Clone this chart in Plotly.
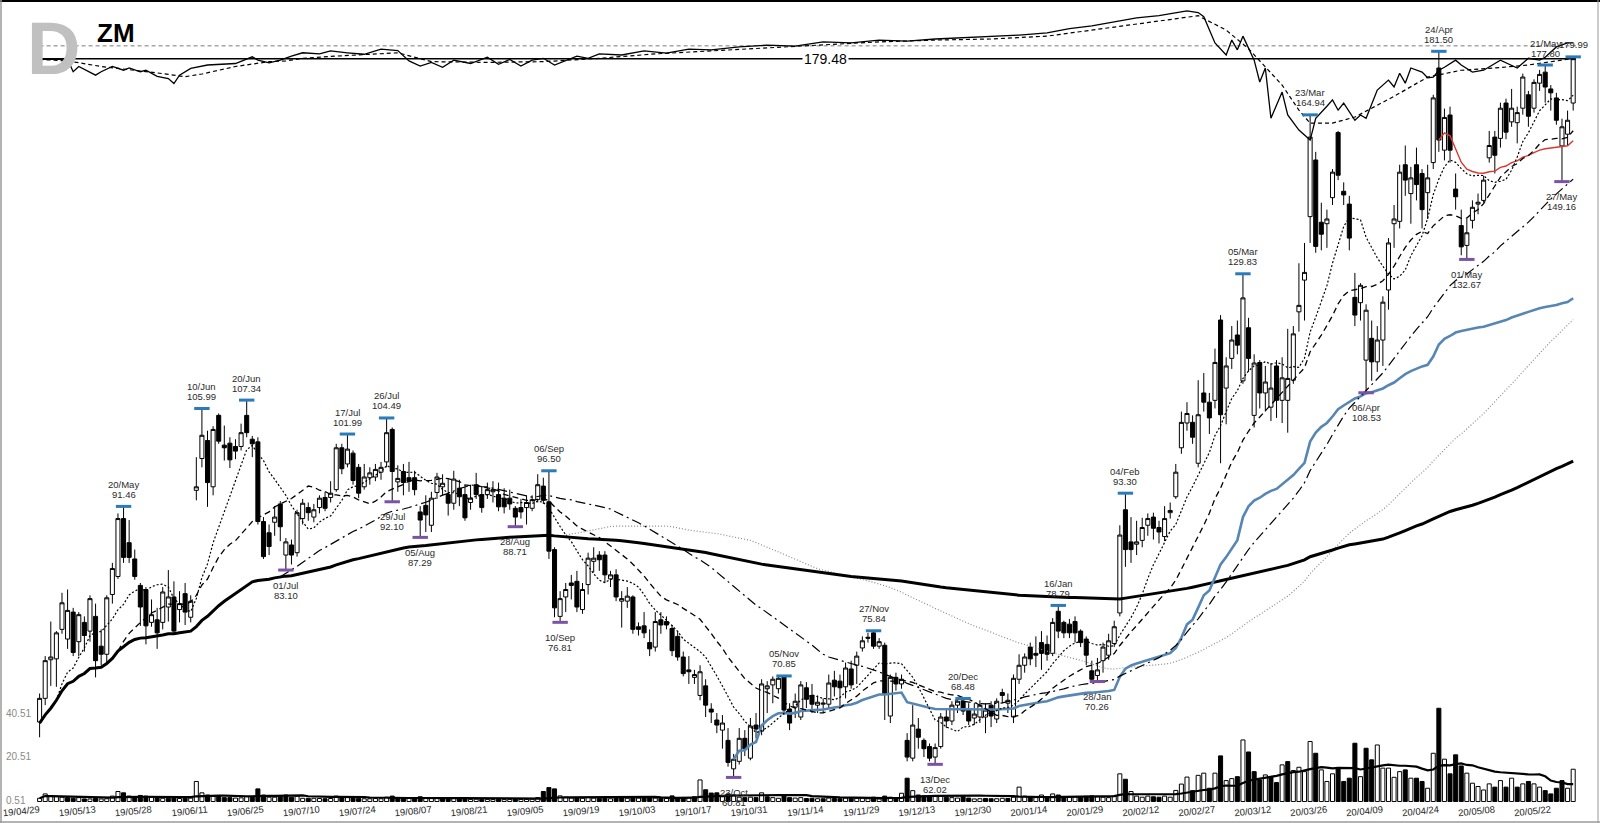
import numpy as np
import pandas as pd
import plotly.graph_objects as go

# ---------------- data ----------------
holidays = ['2019-05-27', '2019-07-04', '2019-09-02', '2019-11-28', '2019-12-25',
            '2020-01-01', '2020-01-20', '2020-02-17', '2020-04-10', '2020-05-25']
dates = [d for d in pd.bdate_range('2019-04-29', '2020-05-29')
         if d.strftime('%Y-%m-%d') not in holidays]

# closes of the IPO days before the window (used only for moving-average warm-up)
pre_closes = [62.0, 65.7, 69.0, 66.0, 65.0, 65.8]

opens = [
    66.1, 68.5, 72.6, 72.7, 76.0, 74.9, 78.0, 74.6, 76.8, 75.8,
    77.5, 74.1, 73.2, 80.1, 82.3, 89.8, 86.6, 84.5, 81.2, 80.7,
    76.8, 77.1, 76.8, 78.6, 79.8, 78.3, 80.2, 77.4, 93.7, 98.3,
    101.0, 94.2, 104.9, 100.3, 100.6, 100.1, 100.1, 104.9, 101.2, 100.8,
    89.4, 87.9, 89.3, 91.8, 85.0, 86.3, 85.3, 89.8, 91.3, 90.0,
    91.3, 92.7, 92.7, 93.8, 99.9, 97.5, 99.1, 97.0, 94.2, 95.5,
    95.6, 96.3, 97.8, 102.7, 94.9, 96.4, 95.5, 95.5, 90.7, 91.6,
    88.9, 93.4, 94.2, 93.1, 91.9, 94.0, 93.1, 92.0, 94.5, 93.1,
    93.1, 93.5, 93.1, 92.6, 92.6, 91.2, 91.3, 91.3, 91.2, 92.4,
    94.3, 92.1, 85.7, 77.5, 79.8, 81.5, 81.7, 78.3, 81.3, 84.2,
    85.0, 85.0, 82.0, 82.5, 79.3, 79.3, 79.8, 76.3, 76.4, 74.5,
    74.0, 77.1, 76.9, 76.1, 75.2, 72.9, 71.5, 70.7, 68.8, 69.8,
    67.4, 66.3, 65.3, 64.3, 61.6, 62.3, 64.5, 62.6, 65.8, 65.2,
    69.5, 69.9, 69.5, 70.8, 67.4, 67.6, 66.6, 69.6, 68.8, 67.8,
    67.9, 67.9, 70.4, 70.3, 69.7, 71.6, 72.0, 73.9, 75.1, 75.6,
    74.1, 74.2, 66.7, 70.7, 70.0, 64.3, 62.6, 65.4, 64.3, 63.7,
    62.7, 63.7, 66.6, 66.2, 67.8, 68.2, 67.3, 66.5, 66.6, 66.6,
    67.8, 66.4, 69.1, 68.0, 66.6, 70.5, 72.0, 74.0, 73.3, 74.5,
    74.3, 73.3, 78.1, 76.8, 76.6, 76.9, 75.8, 74.9, 71.4, 70.9,
    72.5, 73.1, 74.4, 77.9, 91.0, 86.7, 86.4, 86.9, 88.9, 90.0,
    88.6, 87.4, 90.6, 92.8, 99.9, 103.7, 103.8, 97.6, 108.5, 107.0,
    107.3, 121.1, 109.3, 114.3, 118.4, 110.5, 119.7, 104.9, 113.6, 108.5,
    106.2, 113.0, 107.3, 107.3, 110.6, 122.6, 128.6, 141.5, 154.1, 140.3,
    140.0, 145.6, 160.6, 147.0, 144.2, 125.3, 124.3, 114.0, 117.8, 113.7,
    117.5, 126.7, 140.0, 140.5, 153.0, 146.5, 153.0, 151.0, 146.7, 153.5,
    177.0, 156.4, 164.9, 147.5, 139.6, 135.5, 140.7, 144.2, 145.0, 154.6,
    159.5, 159.2, 167.9, 163.2, 163.0, 166.6, 170.0, 166.6, 173.0, 175.9,
    171.5, 169.2, 157.4, 160.2, 167.9]

highs = [
    69.0, 73.0, 76.9, 75.8, 80.3, 80.7, 78.5, 78.0, 77.5, 80.0,
    79.0, 76.0, 80.0, 84.0, 90.5, 91.46, 89.6, 85.7, 81.5, 81.0,
    79.5, 78.5, 81.0, 83.1, 81.7, 80.5, 81.5, 80.0, 98.5, 105.99,
    102.5, 103.2, 105.2, 103.3, 101.5, 101.2, 103.6, 107.34, 101.7, 101.5,
    90.0, 89.0, 91.5, 92.2, 87.2, 87.0, 91.0, 92.5, 92.0, 91.8,
    93.0, 93.5, 95.0, 100.5, 100.5, 101.99, 99.5, 97.5, 97.5, 97.0,
    97.5, 97.8, 104.49, 103.0, 97.3, 97.5, 97.8, 96.5, 91.5, 93.0,
    93.5, 96.2, 96.0, 95.3, 96.5, 95.2, 94.5, 94.5, 96.2, 94.2,
    94.8, 95.0, 94.8, 94.0, 93.8, 91.5, 92.5, 93.0, 93.0, 96.0,
    95.5, 96.50, 86.0, 80.5, 81.5, 82.5, 83.0, 81.5, 85.3, 86.0,
    85.5, 85.5, 83.0, 83.2, 80.5, 81.0, 80.0, 76.8, 78.0, 76.0,
    78.0, 78.0, 77.5, 76.5, 75.8, 73.5, 73.0, 71.5, 72.0, 70.5,
    68.0, 67.0, 66.8, 65.5, 63.0, 65.5, 65.3, 66.5, 67.0, 70.5,
    70.3, 70.8, 70.8, 70.85, 68.0, 69.0, 70.3, 70.2, 70.0, 68.8,
    68.5, 71.0, 71.4, 71.0, 72.3, 72.5, 73.5, 75.2, 75.6, 75.84,
    75.0, 74.5, 71.0, 71.2, 71.0, 65.0, 67.8, 66.5, 64.5, 64.0,
    64.0, 67.0, 67.5, 68.2, 68.3, 68.48, 68.0, 68.0, 68.3, 68.0,
    68.2, 68.5, 69.5, 69.0, 71.0, 73.2, 73.3, 74.5, 75.2, 75.8,
    75.3, 77.3, 78.79, 77.0, 77.2, 77.5, 76.0, 75.2, 72.5, 72.8,
    74.5, 75.5, 77.0, 88.9, 93.30, 90.0, 89.5, 89.9, 90.5, 90.6,
    89.5, 91.5, 92.0, 97.5, 105.5, 107.0, 104.9, 110.6, 111.8, 108.5,
    116.0, 122.0, 114.5, 120.0, 121.0, 129.83, 121.5, 115.0, 114.0, 113.0,
    113.5, 114.0, 114.5, 119.5, 120.0, 131.9, 136.0, 164.94, 156.0, 144.5,
    143.0, 152.0, 161.0, 149.0, 146.0, 130.0, 128.0, 124.0, 121.0, 120.0,
    125.5, 137.0, 144.0, 153.0, 157.5, 152.5, 157.0, 152.0, 153.0, 170.0,
    181.50, 166.5, 167.0, 151.0, 143.0, 141.0, 145.0, 146.5, 150.5, 161.0,
    161.0, 168.0, 169.0, 171.5, 167.0, 175.5, 171.0, 174.0, 176.5, 177.80,
    172.5, 170.5, 164.0, 166.0, 179.99]

lows = [
    64.6, 67.8, 69.8, 69.7, 75.5, 73.8, 73.0, 73.0, 73.5, 74.6,
    70.7, 72.0, 72.2, 79.0, 82.0, 84.0, 84.0, 81.9, 76.4, 74.3,
    76.3, 73.8, 76.0, 76.9, 75.5, 76.8, 76.5, 76.8, 92.3, 97.0,
    91.4, 93.0, 100.5, 98.0, 96.9, 98.2, 99.5, 101.5, 98.5, 89.0,
    84.5, 85.0, 87.5, 86.8, 83.10, 83.8, 84.8, 89.0, 89.5, 89.3,
    90.5, 90.8, 92.0, 93.5, 96.0, 97.0, 94.5, 92.6, 93.8, 94.5,
    95.0, 95.2, 97.0, 92.10, 93.5, 93.0, 93.5, 93.0, 87.29, 88.0,
    88.0, 92.5, 93.0, 90.2, 91.0, 91.5, 89.5, 91.0, 92.5, 90.6,
    92.5, 92.0, 90.8, 90.5, 91.0, 88.71, 89.8, 89.0, 90.8, 92.0,
    91.8, 84.5, 77.4, 76.81, 78.0, 79.5, 78.0, 77.8, 80.1, 82.8,
    83.0, 81.5, 81.0, 79.3, 76.2, 78.5, 75.5, 75.3, 75.0, 73.0,
    73.5, 75.5, 76.0, 73.0, 72.5, 70.8, 70.0, 70.0, 68.3, 66.6,
    66.0, 65.0, 63.5, 61.8, 60.81, 62.0, 62.8, 62.4, 64.5, 64.8,
    67.0, 68.0, 69.0, 66.8, 65.3, 66.5, 66.3, 67.5, 67.0, 67.0,
    67.0, 67.5, 68.7, 67.5, 68.5, 69.5, 70.0, 73.5, 74.5, 73.8,
    73.8, 66.3, 66.0, 69.3, 69.5, 62.3, 62.3, 63.5, 62.7, 62.3,
    62.02, 63.5, 65.5, 65.8, 67.0, 66.8, 65.8, 65.8, 66.0, 65.0,
    65.6, 66.0, 68.0, 67.0, 66.0, 70.0, 71.2, 72.0, 71.8, 71.5,
    72.5, 73.0, 75.0, 75.0, 75.0, 74.5, 74.0, 72.0, 70.3, 70.26,
    71.2, 72.6, 74.0, 77.5, 83.5, 84.0, 85.0, 86.0, 87.5, 87.0,
    86.5, 86.8, 89.8, 92.5, 99.0, 102.5, 100.5, 97.0, 105.5, 102.0,
    106.0, 97.6, 103.5, 112.5, 115.0, 110.0, 112.0, 103.0, 106.0, 105.5,
    104.0, 104.5, 103.7, 102.2, 110.0, 119.0, 121.0, 136.0, 134.0, 134.5,
    135.0, 144.0, 149.5, 144.0, 134.5, 120.0, 121.0, 108.53, 110.5, 112.0,
    113.0, 123.0, 135.0, 139.0, 146.0, 140.0, 145.0, 139.0, 141.0, 152.0,
    156.0, 154.0, 153.5, 143.0, 133.5, 132.67, 139.0, 142.0, 144.5, 153.5,
    151.0, 157.0, 159.0, 162.0, 158.0, 165.0, 162.0, 165.5, 171.0, 168.0,
    166.0, 162.5, 149.16, 157.5, 166.0]

closes = [
    68.5, 72.5, 72.9, 75.6, 79.1, 78.2, 73.4, 77.7, 75.3, 79.6,
    72.5, 73.2, 79.7, 83.3, 89.8, 84.7, 84.7, 82.3, 78.6, 76.4,
    77.7, 75.6, 80.4, 79.8, 75.8, 79.0, 78.0, 79.3, 94.2, 101.8,
    94.8, 102.7, 100.9, 99.9, 98.1, 99.4, 102.2, 102.2, 100.5, 89.4,
    84.8, 86.1, 90.0, 88.7, 86.7, 85.0, 90.6, 91.9, 90.6, 91.0,
    92.6, 91.2, 93.3, 99.9, 96.8, 99.7, 95.1, 93.3, 95.6, 96.2,
    96.7, 97.0, 102.2, 96.4, 95.4, 94.8, 95.0, 93.8, 89.6, 90.3,
    92.6, 95.6, 94.7, 91.9, 95.3, 92.8, 89.9, 92.6, 93.1, 91.3,
    93.8, 93.8, 91.4, 91.4, 91.8, 90.0, 90.7, 92.0, 92.4, 94.5,
    92.3, 85.5, 78.5, 79.6, 80.7, 81.2, 78.6, 80.7, 84.6, 84.6,
    84.4, 82.5, 82.5, 79.8, 79.6, 79.9, 76.0, 76.0, 75.6, 73.8,
    76.9, 76.5, 76.5, 73.6, 72.9, 71.1, 71.3, 71.0, 71.3, 67.8,
    67.1, 65.8, 66.0, 62.2, 62.5, 64.5, 63.5, 65.7, 65.4, 70.0,
    69.8, 70.5, 70.6, 67.3, 66.0, 68.2, 69.9, 68.4, 67.9, 68.1,
    68.0, 70.1, 69.7, 69.6, 71.7, 69.9, 73.0, 74.7, 75.0, 74.1,
    74.6, 69.0, 70.7, 70.0, 70.5, 62.7, 65.8, 64.6, 63.5, 62.6,
    63.6, 66.6, 66.2, 67.8, 68.2, 67.2, 66.2, 66.9, 67.8, 67.3,
    66.7, 68.2, 68.8, 68.3, 70.6, 72.0, 72.9, 72.7, 73.1, 73.3,
    73.2, 76.8, 75.8, 75.6, 75.6, 75.6, 74.5, 73.1, 70.5, 71.5,
    74.0, 74.7, 76.3, 87.6, 85.7, 85.7, 86.7, 88.6, 89.8, 88.5,
    88.0, 89.8, 90.9, 96.3, 103.8, 105.2, 101.5, 105.0, 107.0, 104.5,
    113.6, 105.0, 113.0, 117.5, 116.6, 125.2, 114.3, 113.5, 108.5, 110.3,
    109.3, 107.3, 111.0, 110.9, 118.6, 123.8, 130.1, 159.5, 135.3, 137.8,
    141.0, 151.3, 150.6, 146.2, 137.0, 122.0, 127.6, 122.9, 113.7, 117.5,
    124.4, 136.0, 141.0, 151.3, 149.5, 150.0, 148.5, 143.0, 150.0, 169.2,
    158.8, 164.3, 156.4, 145.8, 135.2, 138.1, 143.5, 144.6, 149.5, 157.5,
    155.2, 166.6, 160.7, 166.6, 165.5, 174.6, 164.6, 173.2, 175.3, 172.0,
    170.5, 163.6, 162.0, 163.6, 179.5]

volumes = [
    1.5, 3.5, 2.5, 2.3, 2.0, 1.8, 1.5, 1.8, 1.2, 1.2,
    1.5, 1.2, 1.3, 2.5, 4.6, 4.0, 2.5, 1.8, 2.8, 2.5,
    2.0, 2.0, 1.5, 1.5, 1.8, 1.4, 1.5, 1.6, 9.2, 4.0,
    3.0, 2.5, 2.4, 1.8, 1.8, 1.6, 1.7, 2.2, 2.0, 5.8,
    3.0, 2.0, 2.0, 2.2, 3.0, 2.0, 2.5, 1.5, 1.5, 1.5,
    1.4, 1.3, 1.4, 2.5, 2.0, 1.8, 1.7, 1.5, 1.3, 1.3,
    1.4, 1.3, 2.0, 2.5, 1.8, 1.6, 1.5, 1.4, 2.2, 1.6,
    1.8, 1.5, 1.2, 1.3, 1.4, 1.2, 1.4, 1.0, 1.1, 1.0,
    1.0, 0.9, 1.0, 0.9, 1.0, 1.2, 1.0, 1.0, 1.1, 1.8,
    4.6, 6.4, 5.8, 2.6, 2.0, 1.6, 1.8, 1.5, 2.0, 1.6,
    1.5, 1.6, 1.3, 1.8, 1.8, 1.5, 2.2, 1.6, 1.8, 1.8,
    1.6, 1.5, 1.4, 2.6, 1.8, 1.8, 1.8, 2.2, 9.9, 5.4,
    3.9, 4.0, 2.2, 3.5, 3.0, 2.0, 1.8, 2.0, 1.8, 4.0,
    2.2, 1.8, 1.5, 2.5, 1.8, 1.6, 1.8, 1.4, 1.5, 1.3,
    1.3, 1.6, 1.4, 1.3, 1.6, 1.4, 1.5, 1.8, 1.3, 2.0,
    1.2, 2.5, 2.0, 1.6, 3.8, 10.7, 5.0, 3.0, 2.6, 2.4,
    2.5, 2.6, 2.0, 1.8, 1.6, 2.2, 1.6, 1.2, 1.3, 1.4,
    1.3, 1.3, 1.5, 1.4, 2.0, 6.6, 2.5, 2.0, 1.8, 3.0,
    2.0, 3.5, 3.0, 2.0, 2.0, 2.2, 2.0, 2.4, 2.6, 2.2,
    2.0, 1.8, 2.5, 12.7, 10.2, 4.6, 2.5, 2.0, 2.5, 2.2,
    2.0, 2.5, 2.0, 5.1, 8.0, 11.2, 5.0, 12.0, 13.0, 6.1,
    13.0, 20.9, 9.6, 10.5, 11.4, 28.2, 22.7, 13.7, 9.9, 12.2,
    11.4, 8.7, 16.8, 18.3, 14.2, 15.7, 13.7, 27.5, 22.1, 14.5,
    9.2, 12.7, 15.3, 9.2, 10.7, 26.7, 11.4, 24.4, 19.1, 25.9,
    15.3, 15.3, 11.1, 13.7, 14.5, 10.7, 10.7, 9.2, 6.1, 22.1,
    42.7, 19.4, 12.7, 21.4, 16.3, 13.0, 8.4, 6.9, 5.3, 8.1,
    6.6, 9.6, 6.6, 10.7, 6.6, 8.1, 9.2, 8.1, 6.6, 5.0,
    3.5, 6.1, 9.6, 6.1, 14.8]

# relative-strength line (scaled onto the price axis) sampled at day indices
rs_idx = [0, 5, 6, 7, 10, 11, 13, 15, 16, 18, 19, 21, 23, 24, 25, 27, 30, 35, 38, 39,
          41, 43, 45, 47, 50, 52, 55, 58, 61, 64,
          66, 68, 70, 72, 74, 77, 80, 82, 84, 86, 88, 90, 92, 94, 96, 98, 100, 104, 108, 112,
          116, 120, 125, 130, 135, 140, 145, 150, 155, 160, 165, 170, 175, 180, 184, 188, 192, 196, 200, 203,
          205, 207, 208,
          210, 212, 213, 214, 215, 217, 218, 219,
          220, 222, 223, 225, 227, 228, 230, 231, 232, 233, 235, 236, 237, 239, 241, 242, 243, 244, 245, 247,
          248, 249, 250, 251, 253, 254, 256, 258, 261, 263, 264, 266, 268, 269, 271, 273, 274]
rs_val = [179.3, 179.3, 176.0, 177.4, 175.1, 176.0, 177.4, 176.4, 177.0, 176.0, 176.4, 174.8, 174.2, 172.9, 175.1, 176.9, 177.8, 178.2, 180.0, 179.1,
          178.4, 179.1, 180.2, 181.1, 180.8, 181.6, 181.1, 180.7, 182.1, 181.7,
          178.9, 177.5, 178.5, 177.2, 179.1, 178.2, 179.9, 178.0, 179.3, 177.5, 179.1, 179.6, 177.8, 179.1, 180.2, 179.6, 180.8, 180.5, 181.6, 181.0,
          182.1, 181.9, 182.7, 183.2, 182.9, 184.1, 183.8, 184.6, 184.3, 184.9, 185.2, 185.5, 186.0, 186.6, 187.8, 188.6, 189.8, 190.9, 191.5, 192.4,
          192.9, 192.4, 191.2,
          183.8, 180.5, 184.6, 181.9, 185.7, 179.1, 173.3, 177.0,
          164.1, 170.7, 164.9, 161.2, 158.8, 164.1, 167.1, 168.7, 166.1, 167.9, 163.6, 164.9, 164.1, 171.2, 173.8, 172.0, 175.6, 173.0, 177.0, 175.9,
          174.4, 174.6, 176.4, 177.2, 179.1, 177.8, 175.9, 176.4, 179.1, 177.8, 177.0, 179.6, 179.1, 179.9, 182.7, 183.8, 183.8]
rs_ma_idx = [0, 5, 11, 17, 21, 26, 29, 35, 41, 44, 47, 53, 58, 64,
             70, 80, 90, 100, 110, 120, 130, 140, 150, 160, 170, 180, 190, 200, 207,
             212, 216, 222, 225, 227, 231, 235, 242, 248, 254, 260, 266, 272, 274]
rs_ma_val = [179.3, 178.9, 177.4, 176.4, 175.7, 174.7, 175.4, 177.4, 178.7, 178.9, 179.6, 180.2, 180.7, 181.1,
             178.7, 178.5, 178.7, 179.6, 180.8, 181.6, 182.4, 183.2, 184.1, 184.6, 184.9, 185.7, 187.8, 189.8, 191.5,
             187.4, 182.2, 172.5, 166.1, 162.9, 162.9, 164.4, 169.6, 174.6, 176.4, 177.0, 177.8, 179.1, 179.6]

level_solid = 179.48
level_dashed = 183.0

high_label_idx = [15, 29, 37, 55, 62, 91, 133, 149, 165, 182, 194, 215, 227, 250, 269]
last_high_idx = 274
low_label_idx = [44, 63, 68, 85, 93, 124, 160, 189, 237, 255, 272]
avwap_low_anchor = 124
avwap_high_anchor = 250

tick_every = 10
vol_ma_window = 20

# ---------------- derived series ----------------
n = len(closes)
x = list(range(n))
all_close = pd.Series(pre_closes + closes)
npre = len(pre_closes)


def ma(win, minp=None):
    s = all_close.rolling(win, min_periods=minp if minp else win).mean()
    return s.iloc[npre:].tolist()


ma10 = ma(10)
ma21 = ma(21)
ma50 = ma(50)
ma100 = ma(100)
ma200 = ma(200, 1)

cl = np.array(closes); vo = np.array(volumes)


def avwap(a):
    pv = np.cumsum(cl[a:] * vo[a:])
    vv = np.cumsum(vo[a:])
    return list(range(a, n)), (pv / vv).tolist()


bx, bvw = avwap(avwap_low_anchor)
rx, rvw = avwap(avwap_high_anchor)

vol_ma = pd.Series(volumes).rolling(vol_ma_window, min_periods=1).mean().tolist()
prev = [pre_closes[-1]] + closes[:-1]
vol_colors = ['white' if closes[i] >= prev[i] else 'black' for i in range(n)]

# ---------------- figure ----------------
W, H = 1600, 823
ml, mr, mt, mb = 3, 3, 3, 21
fig = go.Figure()

fig.add_trace(go.Bar(x=x, y=volumes, marker=dict(color=vol_colors, line=dict(color='black', width=1)),
                     width=0.72, yaxis='y', hoverinfo='skip'))
fig.add_trace(go.Scatter(x=x, y=vol_ma, mode='lines', line=dict(color='black', width=2.2), yaxis='y'))

black = 'black'
fig.add_trace(go.Scatter(x=x, y=ma100, mode='lines', line=dict(color='#8a8a8a', width=1.2, dash='1px,2px'), yaxis='y2'))
fig.add_trace(go.Scatter(x=x, y=ma200, mode='lines', line=dict(color=black, width=3), yaxis='y2'))
fig.add_trace(go.Scatter(x=bx, y=bvw, mode='lines', line=dict(color='#5686b4', width=2.6), yaxis='y2'))
fig.add_trace(go.Scatter(x=rx, y=rvw, mode='lines', line=dict(color='#d8392f', width=1.4), yaxis='y2'))
fig.add_trace(go.Scatter(x=x, y=ma50, mode='lines', line=dict(color=black, width=1.2, dash='10px,4px,2px,4px'), yaxis='y2'))
fig.add_trace(go.Scatter(x=x, y=ma21, mode='lines', line=dict(color=black, width=1.3, dash='6px,4px'), yaxis='y2'))
fig.add_trace(go.Scatter(x=x, y=ma10, mode='lines', line=dict(color=black, width=1.2, dash='2px,2px'), yaxis='y2'))

fig.add_trace(go.Candlestick(
    x=x, open=opens, high=highs, low=lows, close=closes, yaxis='y2',
    increasing=dict(line=dict(color='black', width=1), fillcolor='white'),
    decreasing=dict(line=dict(color='black', width=1), fillcolor='black'),
    whiskerwidth=0, hoverinfo='skip'))

# level lines and RS line
fig.add_trace(go.Scatter(x=[0, n - 0.5], y=[level_dashed, level_dashed], mode='lines',
                         line=dict(color='#7a7a7a', width=1, dash='4px,3px'), yaxis='y2'))
fig.add_trace(go.Scatter(x=[0, n - 0.5], y=[level_solid, level_solid], mode='lines',
                         line=dict(color='black', width=1.3), yaxis='y2'))
fig.add_trace(go.Scatter(x=rs_ma_idx, y=rs_ma_val, mode='lines',
                         line=dict(color='black', width=1.2, dash='4px,3px'), yaxis='y2'))
fig.add_trace(go.Scatter(x=rs_idx, y=rs_val, mode='lines', line=dict(color='black', width=1.3), yaxis='y2'))

# high / low markers
hx = high_label_idx + [last_high_idx]
fig.add_trace(go.Scatter(x=hx, y=[highs[i] for i in hx], mode='markers', yaxis='y2',
                         marker=dict(symbol='line-ew', size=11, line=dict(color='#2b7bbb', width=3))))
fig.add_trace(go.Scatter(x=low_label_idx, y=[lows[i] for i in low_label_idx], mode='markers', yaxis='y2',
                         marker=dict(symbol='line-ew', size=11, line=dict(color='#7b52a6', width=3))))

ann = []
lab_font = dict(family='Liberation Sans, Arial', size=9.5, color='#2a2a2a')
for i in high_label_idx:
    yl = np.log10(highs[i])
    ann.append(dict(x=i, y=yl, xref='x', yref='y2', text=dates[i].strftime('%d/%b'), showarrow=False,
                    yanchor='middle', yshift=22, font=lab_font))
    ann.append(dict(x=i, y=yl, xref='x', yref='y2', text=f'{highs[i]:.2f}', showarrow=False,
                    yanchor='middle', yshift=12, font=lab_font))
ann.append(dict(x=last_high_idx, y=np.log10(highs[last_high_idx]), xref='x', yref='y2',
                text=f'{highs[last_high_idx]:.2f}', showarrow=False, yanchor='middle', yshift=12, font=lab_font))
for i in low_label_idx:
    yl = np.log10(lows[i])
    ann.append(dict(x=i, y=yl, xref='x', yref='y2', text=dates[i].strftime('%d/%b'), showarrow=False,
                    yanchor='middle', yshift=-15, font=lab_font))
    ann.append(dict(x=i, y=yl, xref='x', yref='y2', text=f'{lows[i]:.2f}', showarrow=False,
                    yanchor='middle', yshift=-25, font=lab_font))

ann.append(dict(x=140.5, y=np.log10(level_solid), xref='x', yref='y2', text=f'{level_solid:.2f}',
                showarrow=False, bgcolor='white', yanchor='middle',
                font=dict(family='Liberation Sans, Arial', size=14, color='black')))


def px(v):
    return (v - ml) / (W - ml - mr)


def py(v):
    return (H - mb - v) / (H - mt - mb)


ann.append(dict(x=px(53), y=py(49), xref='paper', yref='paper', text='<b>D</b>', showarrow=False,
                xanchor='center', yanchor='middle',
                font=dict(family='Liberation Sans, Arial', size=74, color='#c0c0c0')))
ann.append(dict(x=px(116), y=py(33), xref='paper', yref='paper', text='<b>ZM</b>', showarrow=False,
                xanchor='center', yanchor='middle',
                font=dict(family='Liberation Sans, Arial', size=26, color='black')))

shapes = [
    dict(type='line', xref='paper', yref='paper', x0=px(0), x1=px(1600), y0=py(1), y1=py(1),
         line=dict(color='black', width=2)),
    dict(type='line', xref='paper', yref='paper', x0=px(1), x1=px(1), y0=py(0), y1=py(823),
         line=dict(color='#9a9a9a', width=1.5)),
    dict(type='line', xref='paper', yref='paper', x0=px(0), x1=px(1600), y0=py(822), y1=py(822),
         line=dict(color='#9a9a9a', width=1.5)),
    dict(type='line', xref='paper', yref='paper', x0=px(1598), x1=px(1598), y0=py(0), y1=py(823),
         line=dict(color='#9a9a9a', width=1)),
]

tickvals = list(range(0, n, tick_every))
ticktext = [dates[i].strftime('%y/%m/%d') for i in tickvals]

x0_idx, spacing = 39.6, 5.597
xr = [(ml - x0_idx) / spacing, (W - mr - x0_idx) / spacing]

fig.update_layout(
    width=W, height=H, margin=dict(l=ml, r=mr, t=mt, b=mb),
    paper_bgcolor='white', plot_bgcolor='white', showlegend=False,
    boxgap=0.15, boxgroupgap=0.15,
    annotations=ann, shapes=shapes,
    xaxis=dict(range=xr, tickvals=tickvals, ticktext=ticktext, tickangle=-6,
               tickfont=dict(family='Liberation Sans, Arial', size=9.5, color='#222'),
               showgrid=False, zeroline=False, showline=False, ticks='', rangeslider=dict(visible=False)),
    yaxis=dict(range=[-0.2, 365.5], tickvals=[0.51, 20.51, 40.51], ticktext=['0.51', '20.51', '40.51'],
               ticklabelposition='inside', ticklabeloverflow='allow',
               tickfont=dict(family='Liberation Sans, Arial', size=10, color='#8a8a8a'),
               showgrid=False, zeroline=False, showline=False, ticks='', fixedrange=True),
    yaxis2=dict(type='log', overlaying='y', range=[np.log10(58.6), np.log10(195.2)],
                showticklabels=False, showgrid=False, zeroline=False, showline=False, ticks=''),
)

fig.write_html('out.html', config={'displayModeBar': False},
               post_script="document.body.style.margin='0px';document.body.style.padding='0px';")
